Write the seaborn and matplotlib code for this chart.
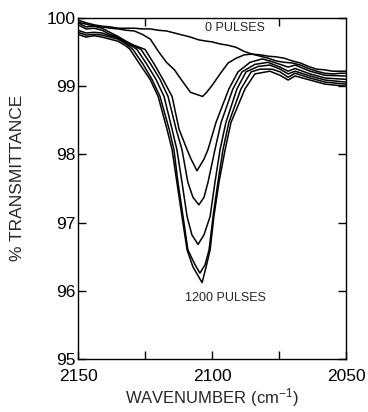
import matplotlib
matplotlib.use("Agg")
import matplotlib.pyplot as plt
from matplotlib.ticker import FixedLocator, NullFormatter
import seaborn as sns
import pandas as pd

# ---- data ----
wn_0 = [2150, 2147, 2144, 2141, 2138, 2135, 2132, 2129, 2126, 2123, 2120, 2117, 2114, 2111,
        2108, 2105, 2102, 2100, 2097, 2094, 2091, 2088, 2085, 2082, 2079, 2076, 2073, 2070,
        2067, 2064, 2061, 2058, 2055, 2052, 2050]
t_0 = [99.97, 99.93, 99.90, 99.88, 99.87, 99.85, 99.85, 99.85, 99.84, 99.84, 99.82, 99.81, 99.78, 99.75,
       99.72, 99.68, 99.66, 99.65, 99.62, 99.60, 99.57, 99.51, 99.47, 99.46, 99.44, 99.43, 99.41, 99.37,
       99.34, 99.29, 99.25, 99.24, 99.22, 99.22, 99.22]

wn_1 = [2150, 2147, 2144, 2141, 2138, 2135, 2132, 2129, 2126, 2123, 2120, 2117, 2114, 2111,
        2108, 2105, 2103.5, 2102, 2100, 2097, 2094, 2091, 2088, 2085, 2082, 2079, 2076, 2073,
        2070, 2067, 2064, 2061, 2058, 2055, 2052, 2050]
t_1 = [99.94, 99.91, 99.88, 99.87, 99.85, 99.84, 99.82, 99.81, 99.76, 99.69, 99.51, 99.35, 99.24, 99.07,
       98.91, 98.87, 98.85, 98.91, 99.01, 99.18, 99.34, 99.41, 99.46, 99.47, 99.44, 99.41, 99.37, 99.35,
       99.34, 99.31, 99.26, 99.22, 99.19, 99.18, 99.19, 99.19]

wn_2 = [2150, 2147.0, 2144.0, 2141.0, 2138.1, 2135.1, 2132.1, 2129.1, 2125.0, 2121.5, 2118.3, 2114.9,
        2112.3, 2109.3, 2107.8, 2105.6, 2103.0, 2101.5, 2098.5, 2093.7, 2090.3, 2085.8, 2081.3,
        2078.4, 2074.6, 2071.6, 2069.0, 2063.4, 2057.8, 2050]
t_2 = [99.93, 99.87, 99.88, 99.85, 99.79, 99.73, 99.66, 99.60, 99.54, 99.32, 99.10, 98.85,
       98.37, 98.07, 97.93, 97.76, 97.93, 98.07, 98.47, 98.96, 99.21, 99.35, 99.40,
       99.37, 99.32, 99.28, 99.31, 99.22, 99.16, 99.15]

wn_3 = [2150, 2147.0, 2144.0, 2141.0, 2138.1, 2135.1, 2132.1, 2129.1, 2126.5, 2122.8, 2119.4, 2116.4,
        2113.4, 2111.2, 2109.0, 2107.1, 2104.9, 2103.0, 2101.5, 2098.9, 2096.6, 2092.2, 2088.8,
        2084.0, 2079.1, 2074.6, 2071.6, 2069.0, 2063.4, 2057.8, 2050]
t_3 = [99.90, 99.84, 99.85, 99.82, 99.76, 99.72, 99.65, 99.59, 99.54, 99.32, 99.10, 98.85,
       98.37, 98.07, 97.59, 97.37, 97.26, 97.37, 97.59, 98.07, 98.47, 98.96, 99.21,
       99.32, 99.35, 99.28, 99.22, 99.26, 99.18, 99.12, 99.10]

wn_4 = [2150, 2147.0, 2144.0, 2141.0, 2138.1, 2135.1, 2132.1, 2129.1, 2128.0, 2124.3, 2120.9, 2117.9,
        2114.9, 2113.1, 2111.2, 2109.3, 2107.5, 2105.2, 2103.0, 2100.7, 2098.9, 2097.0, 2094.8,
        2090.7, 2087.3, 2082.8, 2078.4, 2074.6, 2071.6, 2069.0, 2063.4, 2057.8, 2050]
t_4 = [99.82, 99.78, 99.79, 99.78, 99.74, 99.71, 99.63, 99.57, 99.54, 99.32, 99.10, 98.85,
       98.37, 98.07, 97.59, 97.09, 96.82, 96.68, 96.82, 97.09, 97.59, 98.07, 98.47,
       98.96, 99.21, 99.29, 99.31, 99.25, 99.18, 99.22, 99.15, 99.09, 99.06]

wn_5 = [2150, 2147.0, 2144.0, 2141.0, 2138.1, 2135.1, 2132.1, 2129.5, 2125.7, 2122.4, 2119.4, 2116.0,
        2114.2, 2112.7, 2110.8, 2109.0, 2106.3, 2104.5, 2102.6, 2101.1, 2099.6, 2097.8, 2095.9,
        2093.7, 2089.2, 2085.4, 2082.1, 2077.6, 2074.6, 2071.6, 2069.0, 2063.4, 2057.8, 2050]
t_5 = [99.79, 99.75, 99.76, 99.75, 99.72, 99.69, 99.62, 99.54, 99.32, 99.10, 98.85, 98.37,
       98.07, 97.59, 97.09, 96.60, 96.38, 96.26, 96.38, 96.60, 97.09, 97.59, 98.07,
       98.47, 98.96, 99.21, 99.25, 99.25, 99.21, 99.13, 99.19, 99.12, 99.06, 99.03]

wn_6 = [2150, 2147.0, 2144.0, 2141.0, 2138.1, 2135.1, 2132.1, 2130.6, 2126.9, 2123.1, 2120.1, 2116.8,
        2114.9, 2113.1, 2111.2, 2109.3, 2107.1, 2103.7, 2102.2, 2100.7, 2099.3, 2097.4, 2095.1,
        2092.9, 2087.7, 2084.0, 2078.4, 2074.6, 2071.6, 2069.0, 2063.4, 2057.8, 2050]
t_6 = [99.76, 99.72, 99.74, 99.72, 99.69, 99.66, 99.59, 99.54, 99.32, 99.10, 98.85, 98.37,
       98.07, 97.59, 97.09, 96.60, 96.35, 96.12, 96.35, 96.60, 97.09, 97.59, 98.07,
       98.47, 98.96, 99.18, 99.22, 99.16, 99.09, 99.15, 99.09, 99.03, 99.00]

curves = [(wn_0, t_0), (wn_1, t_1), (wn_2, t_2), (wn_3, t_3), (wn_4, t_4), (wn_5, t_5), (wn_6, t_6)]

x_major = [2150, 2100, 2050]
x_minor = [2125, 2075]
y_ticks = [95, 96, 97, 98, 99, 100]

label_top = "0 PULSES"
label_bottom = "1200 PULSES"
xlabel = "WAVENUMBER (cm$^{-1}$)"
ylabel = "% TRANSMITTANCE"

# ---- plot ----
sns.set_style("ticks")
plt.rcParams["font.family"] = ["Liberation Sans", "DejaVu Sans"]
plt.rcParams["mathtext.fontset"] = "custom"
plt.rcParams["mathtext.rm"] = "Liberation Sans"
plt.rcParams["mathtext.default"] = "regular"

fig = plt.figure(figsize=(3.68, 4.12), dpi=100)
ax = fig.add_axes([78 / 368, 1 - 359 / 412, 268 / 368, 341 / 412])

for i, (w, t) in enumerate(curves):
    df = pd.DataFrame({"wn": w, "T": t})
    sns.lineplot(data=df, x="wn", y="T", ax=ax, color="black", lw=1.1,
                 sort=False, estimator=None)

ax.set_xlim(2150, 2050)
ax.set_ylim(95, 100)

ax.xaxis.set_major_locator(FixedLocator(x_major))
ax.xaxis.set_minor_locator(FixedLocator(x_minor))
ax.xaxis.set_minor_formatter(NullFormatter())
ax.yaxis.set_major_locator(FixedLocator(y_ticks))

ax.tick_params(which="both", direction="in", length=6, width=1.0, colors="black",
               labelsize=12.5)
ax.tick_params(axis="x", which="major", top=False, bottom=True, pad=7)
ax.tick_params(axis="x", which="minor", top=True, bottom=True)
ax.tick_params(axis="y", which="major", left=True, right=True, pad=1.5)

for s in ax.spines.values():
    s.set_visible(True)
    s.set_color("black")
    s.set_linewidth(1.0)

ax.set_xlabel(xlabel, fontsize=12, va="center")
ax.set_ylabel(ylabel, fontsize=12.5, va="center")
ax.xaxis.set_label_coords(0.5, -0.113)
ax.yaxis.set_label_coords(-0.224, 0.53)

ax.text(2091.4, 99.85, label_top, ha="center", va="center", fontsize=9)
ax.text(2094.8, 95.9, label_bottom, ha="center", va="center", fontsize=9)

fig.savefig("out.png", dpi=100)
